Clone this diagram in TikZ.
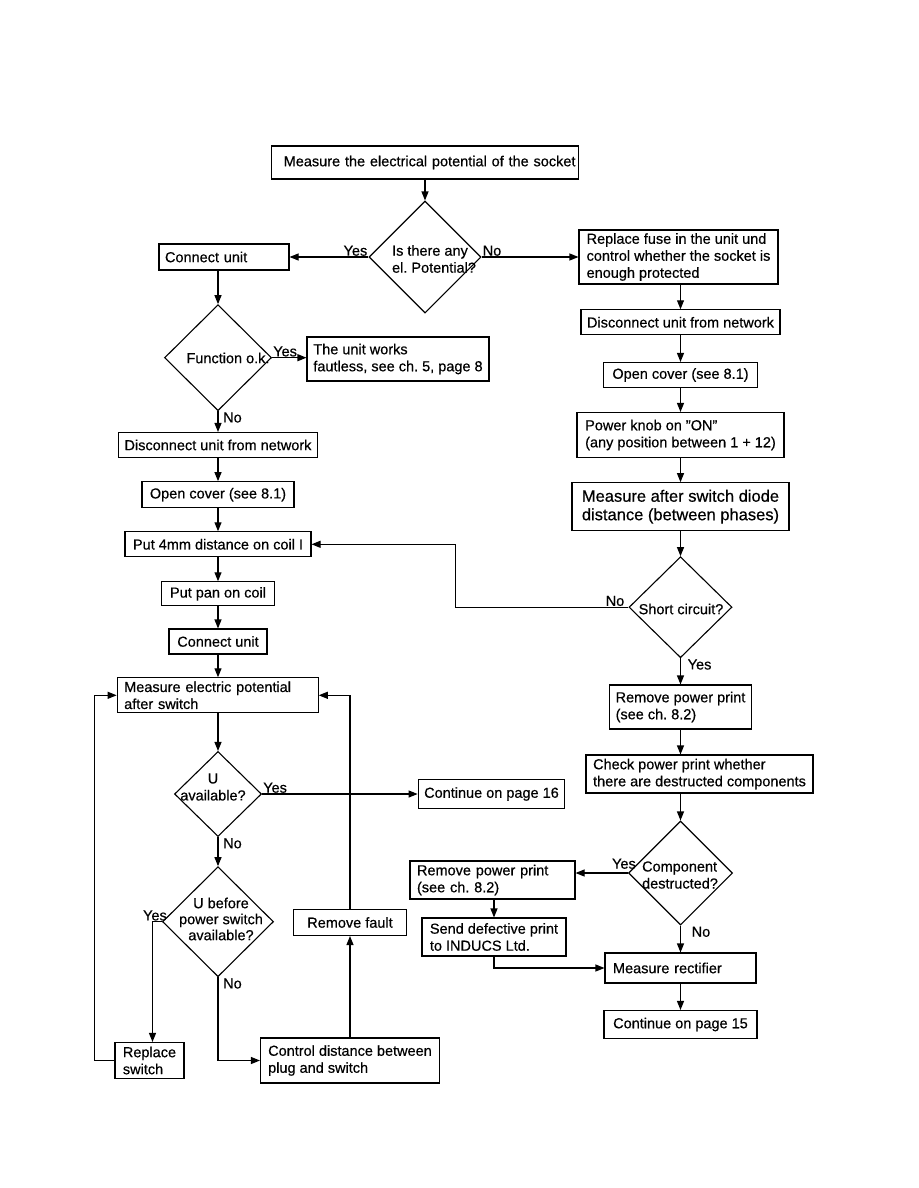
\documentclass[tikz,border=0pt]{standalone}
\usepackage{fontspec}
\setmainfont{Liberation Sans}[FakeBold=0.5]
\usetikzlibrary{arrows.meta,shapes.geometric,positioning}
\newcommand{\chartfont}{\fontsize{14.5}{17}\selectfont}
\newcommand{\bigchartfont}{\fontsize{16.5}{18.5}\selectfont}
\frenchspacing

\begin{document}
\begin{tikzpicture}[x=1pt, y=-1pt,
    box/.style={draw, line width=1.1pt, inner xsep=6pt, inner ysep=2pt,
                font=\chartfont, align=left},
    test/.style={draw, diamond, line width=1.1pt, inner sep=0pt},
    qtext/.style={font=\chartfont, align=center, inner sep=0pt},
    lbl/.style={font=\chartfont, inner sep=1pt},
    arr/.style={-{Triangle[length=9pt,width=7pt]}, line width=1.1pt},
  ]
    \useasboundingbox (0,0) rectangle (918,1188);
    % start
    \node[box, minimum width=307, minimum height=33, text width=301, align=right, inner xsep=3pt]
      (meas) at (425,162.5) {Measure the electrical potential of the socket};
    \node[test, minimum width=112, minimum height=112] (d1) at (425,257) {};
    \node[qtext, align=left] (d1t) at (434,259) {Is there any\\el. Potential?};
    \node[box, minimum width=130, minimum height=26, text width=118] (conn1) at (224,257) {Connect unit};
    \node[box, minimum width=199, minimum height=54] (fuse) at (678.5,257)
      {Replace fuse in the unit und\\control whether the socket is\\enough protected};
    % left branch
    \node[test, minimum width=107, minimum height=106] (d2) at (218,357.7) {};
    \node[qtext] (d2t) at (228,358) {Function o.k.};
    \node[box, minimum width=182, minimum height=44] (unitok) at (398,359)
      {The unit works\\fautless, see ch. 5, page 8};
    \node[box, minimum width=192, minimum height=25] (disc1) at (218,445) {Disconnect unit from network};
    \node[box, minimum width=152, minimum height=26] (open1) at (218,494.7) {Open cover (see 8.1)};
    \node[box, minimum width=186, minimum height=25] (put4) at (218,544.3) {Put 4mm distance on coil I};
    \node[box, minimum width=113, minimum height=24] (pan) at (218,593.8) {Put pan on coil};
    \node[box, minimum width=98, minimum height=25] (conn2) at (218,641.5) {Connect unit};
    \node[box, minimum width=201, minimum height=35, text width=187] (measp) at (217.7,695.3)
      {Measure electric potential\\after switch};
    \node[test, minimum width=87, minimum height=85] (d3) at (218,794) {};
    \node[qtext] (d3t) at (213,787) {U\\available?};
    \node[box, minimum width=145, minimum height=29] (cont16) at (491.5,794) {Continue on page 16};
    \node[test, minimum width=111, minimum height=110] (d4) at (218,921.7) {};
    \node[qtext, font=\fontsize{14.5}{16}\selectfont] (d4t) at (221,919) {U before\\power switch\\available?};
    \node[box, minimum width=69, minimum height=36] (repl) at (149.5,1060.5) {Replace\\switch};
    \node[box, minimum width=179, minimum height=45] (ctrl) at (350,1060.5) {Control distance between\\plug and switch};
    \node[box, minimum width=113, minimum height=26] (fault) at (350,922.5) {Remove fault};
    % right branch
    \node[box, minimum width=197, minimum height=25] (disc2) at (680.5,322.3) {Disconnect unit from network};
    \node[box, minimum width=154, minimum height=25] (open2) at (680.5,375) {Open cover (see 8.1)};
    \node[box, minimum width=207, minimum height=45] (knob) at (680.5,435)
      {Power knob on \symbol{34}ON\symbol{34}\\(any position between 1 + 12)};
    \node[box, font=\bigchartfont, minimum width=217, minimum height=48] (diode) at (680.5,506.7)
      {Measure after switch diode\\distance (between phases)};
    \node[test, minimum width=103, minimum height=101] (d5) at (680.5,607.2) {};
    \node[qtext] (d5t) at (681,609) {Short circuit?};
    \node[box, minimum width=142, minimum height=44] (rpp1) at (680.5,707) {Remove power print\\(see ch. 8.2)};
    \node[box, minimum width=227, minimum height=38] (check) at (699.5,774)
      {Check power print whether\\there are destructed components};
    \node[test, minimum width=104, minimum height=104] (d6) at (680.5,873) {};
    \node[qtext, align=left] (d6t) at (680,875) {Component\\destructed?};
    \node[box, minimum width=165, minimum height=38, text width=151] (rpp2) at (492.5,880)
      {Remove power print\\(see ch. 8.2)};
    \node[box, minimum width=144, minimum height=38] (send) at (494,937) {Send defective print\\to INDUCS Ltd.};
    \node[box, minimum width=151, minimum height=30, text width=135] (rect) at (680.5,968) {Measure rectifier};
    \node[box, minimum width=153, minimum height=28] (cont15) at (680.5,1024.5) {Continue on page 15};
    % answers
    \node[lbl, anchor=south east] (y1) at (d1.west) {Yes};
    \node[lbl, anchor=south west] (n1) at (d1.east) {No};
    \node[lbl, anchor=south west] (y2) at (d2.east) {Yes};
    \node[lbl, anchor=north west, xshift=4] (n2) at (d2.south) {No};
    \node[lbl, anchor=south west] (y3) at (d3.east) {Yes};
    \node[lbl, anchor=north west, xshift=4] (n3) at (d3.south) {No};
    \node[lbl, anchor=south east, xshift=6] (y4) at (d4.west) {Yes};
    \node[lbl, anchor=north west, xshift=4] (n4) at (d4.south) {No};
    \node[lbl, anchor=south east, xshift=-3] (n5) at (d5.west) {No};
    \node[lbl, anchor=north west, xshift=6] (y5) at (d5.south) {Yes};
    \node[lbl, anchor=south east, xshift=9, yshift=3] (y6) at (d6.west) {Yes};
    \node[lbl, anchor=north west, xshift=10] (n6) at (d6.south) {No};
    % connectors
    \draw[arr] (meas.south) -- (d1.north);
    \draw[arr] (d1.west) -- (conn1.east);
    \draw[arr] (d1.east) -- (fuse.west);
    \draw[arr] (d2.north |- conn1.south) -- (d2.north);
    \draw[arr] (d2.east) -- (d2.east -| unitok.west);
    \draw[arr] (d2.south) -- (disc1.north);
    \draw[arr] (disc1.south) -- (open1.north);
    \draw[arr] (open1.south) -- (put4.north);
    \draw[arr] (put4.south) -- (pan.north);
    \draw[arr] (pan.south) -- (conn2.north);
    \draw[arr] (conn2.south) -- (measp.north -| conn2.south);
    \draw[arr] (conn2.south |- measp.south) -- (d3.north);
    \draw[arr] (d3.east) -- (cont16.west);
    \draw[arr] (d3.south) -- (d4.north);
    \draw[arr] (d4.west) -| ([xshift=3]repl.north);
    \draw[arr] (repl.west) -- ++(-20,0) |- (measp.west);
    \draw[arr] (d4.south) |- (ctrl.west);
    \draw[arr] (ctrl.north) -- (fault.south);
    \draw[arr] (fault.north) |- (measp.east);
    \draw[arr] (disc2.north |- fuse.south) -- (disc2.north);
    \draw[arr] (disc2.south) -- (open2.north);
    \draw[arr] (open2.south) -- (knob.north);
    \draw[arr] (knob.south) -- (diode.north);
    \draw[arr] (diode.south) -- (d5.north);
    \draw[arr] (d5.west) -- ++(-173,0) |- (put4.east);
    \draw[arr] (d5.south) -- (rpp1.north);
    \draw[arr] (rpp1.south) -- (rpp1.south |- check.north);
    \draw[arr] (d6.north |- check.south) -- (d6.north);
    \draw[arr] (d6.west) -- (d6.west -| rpp2.east);
    \draw[arr] (send.north |- rpp2.south) -- (send.north);
    \draw[arr] (send.south) |- (rect.west);
    \draw[arr] (d6.south) -- (rect.north);
    \draw[arr] (rect.south) -- (cont15.north);
\end{tikzpicture}
\end{document}
